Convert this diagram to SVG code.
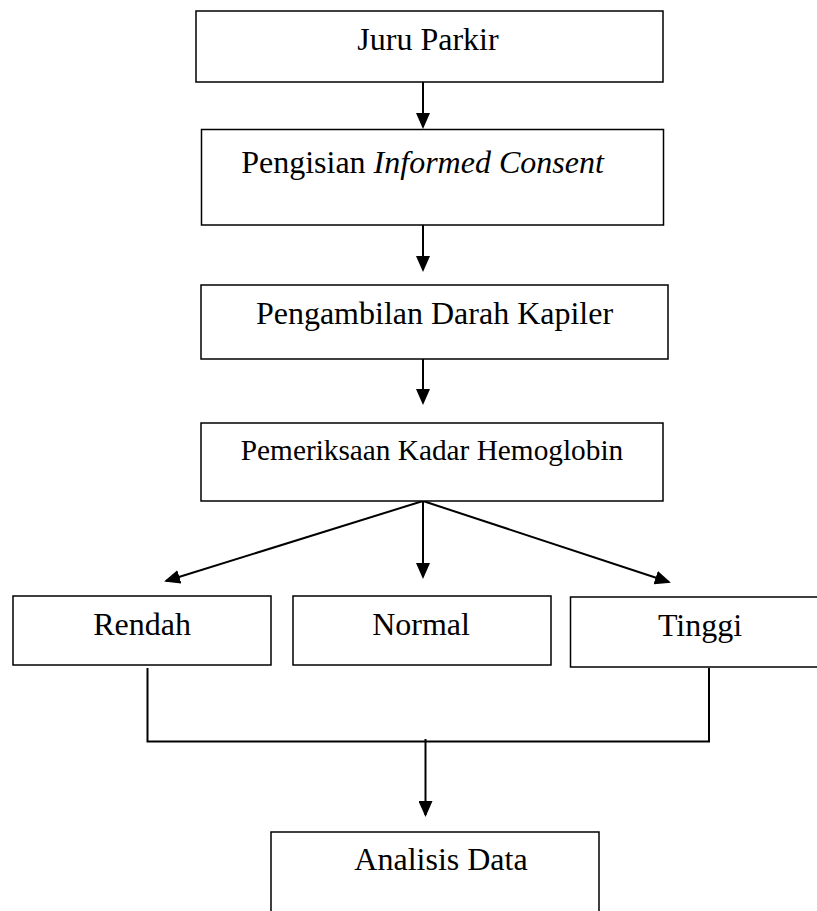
<svg xmlns="http://www.w3.org/2000/svg" width="817" height="911" viewBox="0 0 817 911">
<style>
.box{fill:#fff;stroke:#000;stroke-width:1.5}
.lbl{font-family:"Liberation Serif","Times New Roman",serif;font-size:32px;fill:#000;text-anchor:middle}
.con{fill:none;stroke:#000;stroke-width:2}
</style>
<defs>
<marker id="ah" viewBox="0 0 16 14" markerWidth="16" markerHeight="14" refX="14" refY="7" orient="auto" markerUnits="userSpaceOnUse">
<path d="M0,0 L16,7 L0,14 z" fill="#000"/>
</marker>
</defs>
<rect width="817" height="911" fill="#fff"/>
<g id="connectors">
<line class="con" x1="423" y1="82" x2="423" y2="127" marker-end="url(#ah)"/>
<line class="con" x1="423" y1="225" x2="423" y2="270" marker-end="url(#ah)"/>
<line class="con" x1="423" y1="359" x2="423" y2="403" marker-end="url(#ah)"/>
<line class="con" x1="423" y1="501" x2="423" y2="577" marker-end="url(#ah)"/>
<line class="con" x1="423" y1="501" x2="166" y2="581" marker-end="url(#ah)"/>
<line class="con" x1="423" y1="501" x2="669" y2="582" marker-end="url(#ah)"/>
<polyline class="con" points="147.5,668 147.5,741.5 709,741.5 709,668"/>
<line class="con" x1="425.5" y1="739" x2="425.5" y2="815" marker-end="url(#ah)"/>
</g>
<g id="juru-parkir">
<rect class="box" x="196" y="11" width="467" height="71"/>
<text class="lbl" x="428" y="50">Juru Parkir</text>
</g>
<g id="informed-consent">
<rect class="box" x="201.5" y="129.5" width="462" height="95.5"/>
<text class="lbl" x="422.5" y="173">Pengisian <tspan font-style="italic">Informed Consent</tspan></text>
</g>
<g id="darah-kapiler">
<rect class="box" x="201" y="285" width="467" height="74"/>
<text class="lbl" x="434.5" y="324">Pengambilan Darah Kapiler</text>
</g>
<g id="hemoglobin">
<rect class="box" x="201" y="423" width="462" height="78"/>
<text class="lbl" x="432" y="460" style="font-size:29.3px">Pemeriksaan Kadar Hemoglobin</text>
</g>
<g id="rendah">
<rect class="box" x="13" y="596" width="258" height="69"/>
<text class="lbl" x="142" y="635">Rendah</text>
</g>
<g id="normal">
<rect class="box" x="293" y="596" width="258" height="69"/>
<text class="lbl" x="421" y="635">Normal</text>
</g>
<g id="tinggi">
<rect class="box" x="570.5" y="597" width="250" height="70"/>
<text class="lbl" x="700" y="635.5">Tinggi</text>
</g>
<g id="analisis-data">
<rect class="box" x="271" y="832" width="328" height="90"/>
<text class="lbl" x="441" y="870">Analisis Data</text>
</g>
</svg>
